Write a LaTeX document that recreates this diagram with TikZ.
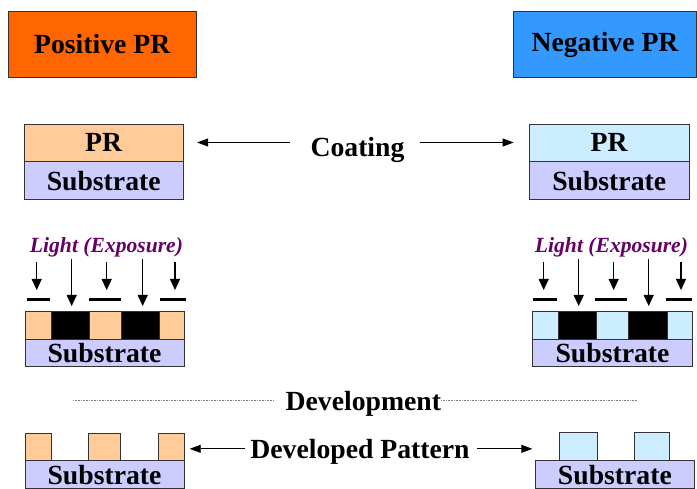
\documentclass[tikz,border=0pt]{standalone}
\usepackage{fontspec}
\setmainfont{Liberation Serif}
\usetikzlibrary{arrows.meta, positioning}

\definecolor{laranjaPos}{HTML}{FF6600}
\definecolor{azulNeg}{HTML}{3399FF}
\definecolor{prLaranja}{HTML}{FFCC99}
\definecolor{prAzul}{HTML}{CCECFF}
\definecolor{substrato}{HTML}{CCCCFF}
\definecolor{roxoLuz}{HTML}{660066}

\begin{document}
\begin{tikzpicture}[
    % 1 unidade = 1 pixel da figura, y para baixo
    x=1pt, y=-1pt,
    camada/.style={draw=black!80, line width=0.8pt, inner sep=0pt,
        font=\bfseries\fontsize{27.7}{30}\selectfont},
    rotulo/.style={inner sep=0pt, anchor=base,
        font=\bfseries\fontsize{27.7}{30}\selectfont},
    seta/.style={-{Triangle[length=11pt,width=8pt]}, line width=0.8pt},
    luz/.style={-{Triangle[length=11pt,width=10pt]}, line width=1.2pt},
    mascara/.style={line width=3pt}
]
    \useasboundingbox (0,0) rectangle (697,489);

    % ==========================================
    % 1. TITULOS
    % ==========================================
    \node[camada, fill=laranjaPos, minimum width=187.7, minimum height=65.6] (pos) at (102.2,44.5) {Positive PR};
    \node[camada, fill=azulNeg, minimum width=183.4, minimum height=65.6] (neg) at (605,44.5) {Negative PR};

    % ==========================================
    % 2. COBERTURA (Coating)
    % ==========================================
    \node[camada, fill=prLaranja, minimum width=159.3, minimum height=37] (prL) at (103.7,142.5) {PR};
    \node[camada, fill=substrato, minimum width=159.3, minimum height=38, below=0pt of prL] (subL) {Substrate};
    \node[camada, fill=prAzul, minimum width=159.7, minimum height=37] (prR) at (609.2,142.5) {PR};
    \node[camada, fill=substrato, minimum width=159.7, minimum height=38, below=0pt of prR] (subR) {Substrate};

    \node[rotulo] (coat) at (357.5,157) {Coating};
    \draw[seta, shorten <=20pt, shorten >=13.4pt] (coat.west |- prL.east) -- (prL.east);
    \draw[seta, shorten <=15pt, shorten >=15.3pt] (coat.east |- prR.west) -- (prR.west);

    % ==========================================
    % 3. EXPOSICAO - perfil positivo (esquerda)
    % ==========================================
    \node[rotulo, font=\bfseries\itshape\fontsize{21.6}{24}\selectfont, text=roxoLuz] (luzL) at (106.5,253) {Light (Exposure)};
    \draw[luz] (36.7,261.7) -- (36.7,290);   % seta curta
    \draw[luz] (71.7,259.3) -- (71.7,306);   % seta longa
    \draw[luz] (106.7,261.7) -- (106.7,290);
    \draw[luz] (142.7,259.3) -- (142.7,306);
    \draw[luz] (175,261.7) -- (175,290);
    \draw[mascara] (26.7,299.3) -- (50,299.3);
    \draw[mascara] (89,299.3) -- (120.7,299.3);
    \draw[mascara] (160,299.3) -- (185.7,299.3);
    \draw[camada, fill=prLaranja] (25,311) rectangle (51,339);
    \draw[camada, fill=black] (51,311) rectangle (89,339);
    \draw[camada, fill=prLaranja] (89,311) rectangle (121,339);
    \draw[camada, fill=black] (121,311) rectangle (159,339);
    \draw[camada, fill=prLaranja] (159,311) rectangle (184,339);
    \node[camada, fill=substrato, minimum width=159, minimum height=27.7] (expSubL) at (104.5,352.9) {Substrate};

    % ==========================================
    % 4. EXPOSICAO - perfil negativo (direita)
    % ==========================================
    \begin{scope}[xshift=507pt]
        \node[rotulo, font=\bfseries\itshape\fontsize{21.6}{24}\selectfont, text=roxoLuz] (luzR) at (104.5,253) {Light (Exposure)};
        \draw[luz] (36.7,261.7) -- (36.7,290);
        \draw[luz] (71.7,259.3) -- (71.7,306);
        \draw[luz] (106.7,261.7) -- (106.7,290);
        \draw[luz] (141.7,259.3) -- (141.7,306);
        \draw[luz] (174,261.7) -- (174,290);
        \draw[mascara] (25.7,299.3) -- (49.7,299.3);
        \draw[mascara] (88,299.3) -- (120.3,299.3);
        \draw[mascara] (159,299.3) -- (185.3,299.3);
        \draw[camada, fill=prAzul] (25.7,311) rectangle (51,339);
        \draw[camada, fill=black] (51,311) rectangle (89,339);
        \draw[camada, fill=prAzul] (89,311) rectangle (121,339);
        \draw[camada, fill=black] (121,311) rectangle (160,339);
        \draw[camada, fill=prAzul] (160,311) rectangle (185.3,339);
        \node[camada, fill=substrato, minimum width=159.6, minimum height=27.7] (expSubR) at (105.5,352.9) {Substrate};
    \end{scope}

    % ==========================================
    % 5. REVELACAO (Development)
    % ==========================================
    \node[rotulo] (devel) at (363.3,410) {Development};
    \coordinate (pontoL) at (73,400);
    \coordinate (pontoR) at (636.7,400);
    \draw[gray, densely dotted, line width=0.6pt, shorten >=12pt] (pontoL) -- (pontoL -| devel.west);
    \draw[gray, densely dotted, line width=0.6pt] (pontoR -| devel.east) -- (pontoR);

    % ==========================================
    % 6. PADRAO REVELADO
    % ==========================================
    % perfil positivo: sobra o PR nao exposto
    \draw[camada, fill=prLaranja] (25,433.3) rectangle (51,460.7);
    \draw[camada, fill=prLaranja] (88.5,433.3) rectangle (120.7,460.7);
    \node[camada, fill=prLaranja, minimum width=26, minimum height=27.4] (blocoL) at (171,447) {};
    \node[camada, fill=substrato, minimum width=159, minimum height=28] (devSubL) at (104.5,474.7) {Substrate};

    % perfil negativo: sobra o PR exposto
    \draw[camada, fill=prAzul] (559.3,432.3) rectangle (597.3,460.7);
    \draw[camada, fill=prAzul] (634.3,432.3) rectangle (669.3,460.7);
    \node[camada, fill=substrato, minimum width=158.3, minimum height=28] (devSubR) at (614.9,474.7) {Substrate};

    \node[rotulo] (padrao) at (360,458) {Developed Pattern};
    \draw[seta, shorten <=5pt, shorten >=5.3pt] ([yshift=2.5pt]padrao.west) -- ([yshift=2.5pt]padrao.west -| blocoL.east);
    \draw[seta, shorten <=6.7pt, shorten >=3pt] ([yshift=2.5pt]padrao.east) -- ([yshift=2.5pt]padrao.east -| devSubR.west);

\end{tikzpicture}
\end{document}
